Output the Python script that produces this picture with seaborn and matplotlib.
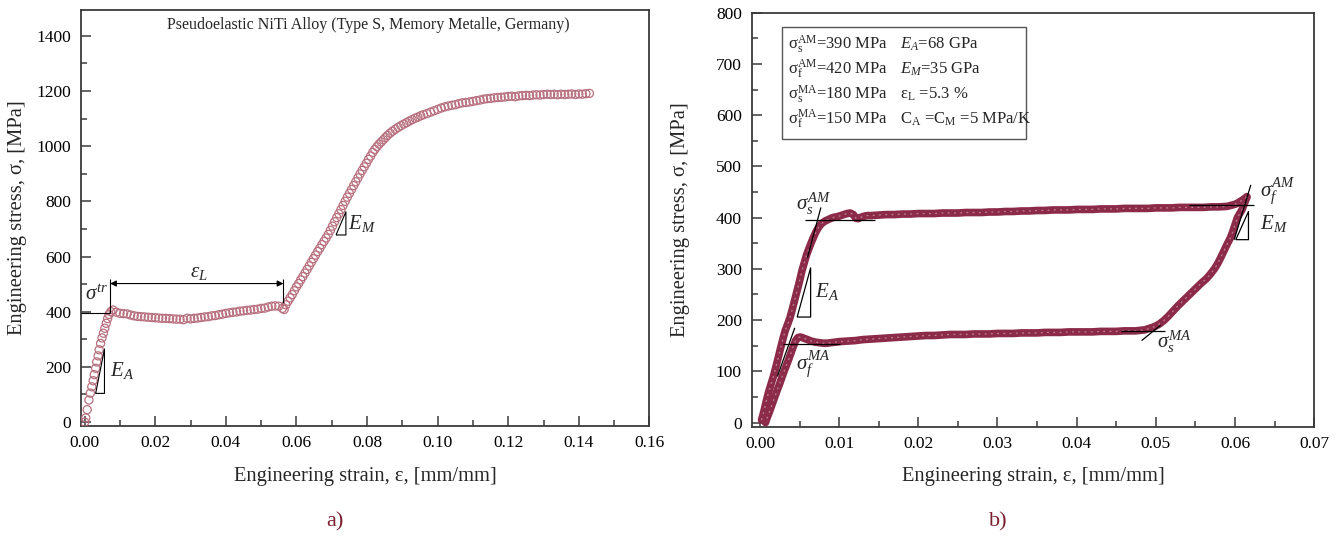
import numpy as np
import pandas as pd
import matplotlib
matplotlib.use("Agg")
import matplotlib.pyplot as plt
from matplotlib.ticker import MultipleLocator, FormatStrFormatter
import seaborn as sns

# ---------------- data: (a) monotonic tensile test ----------------
strain_a = [
    0.0000, 0.0003, 0.0007, 0.0012, 0.0016, 0.0020, 0.0024, 0.0027, 0.0031, 0.0034,
    0.0038, 0.0041, 0.0045, 0.0049, 0.0053, 0.0057, 0.0061, 0.0065, 0.0069, 0.0074,
    0.0080, 0.0090, 0.0100, 0.0110, 0.0120, 0.0130, 0.0140, 0.0150, 0.0160, 0.0170,
    0.0180, 0.0190, 0.0200, 0.0210, 0.0220, 0.0230, 0.0240, 0.0250, 0.0260, 0.0270,
    0.0280, 0.0290, 0.0300, 0.0310, 0.0320, 0.0330, 0.0340, 0.0350, 0.0360, 0.0370,
    0.0380, 0.0390, 0.0400, 0.0410, 0.0420, 0.0430, 0.0440, 0.0450, 0.0460, 0.0470,
    0.0480, 0.0490, 0.0500, 0.0510, 0.0520, 0.0530, 0.0540, 0.0550, 0.0560, 0.0565,
    0.0570, 0.0576, 0.0582, 0.0588, 0.0594, 0.0600, 0.0606, 0.0612, 0.0618, 0.0624,
    0.0630, 0.0636, 0.0642, 0.0648, 0.0654, 0.0660, 0.0666, 0.0672, 0.0678, 0.0684,
    0.0690, 0.0696, 0.0702, 0.0708, 0.0714, 0.0720, 0.0726, 0.0732, 0.0738, 0.0744,
    0.0750, 0.0756, 0.0762, 0.0768, 0.0774, 0.0780, 0.0786, 0.0792, 0.0798, 0.0804,
    0.0810, 0.0816, 0.0822, 0.0828, 0.0834, 0.0840, 0.0846, 0.0852, 0.0858, 0.0865,
    0.0872, 0.0880, 0.0888, 0.0896, 0.0904, 0.0912, 0.0920, 0.0928, 0.0936, 0.0944,
    0.0952, 0.0960, 0.0970, 0.0980, 0.0990, 0.1000, 0.1010, 0.1020, 0.1030, 0.1040,
    0.1050, 0.1060, 0.1070, 0.1080, 0.1090, 0.1100, 0.1110, 0.1120, 0.1130, 0.1140,
    0.1150, 0.1160, 0.1170, 0.1180, 0.1190, 0.1200, 0.1210, 0.1220, 0.1230, 0.1240,
    0.1250, 0.1260, 0.1270, 0.1280, 0.1290, 0.1300, 0.1310, 0.1320, 0.1330, 0.1340,
    0.1350, 0.1360, 0.1370, 0.1380, 0.1390, 0.1400, 0.1410, 0.1420, 0.1430,
]
stress_a = [
    0, 15, 45, 80, 105, 128, 150, 172, 195, 218,
    240, 262, 285, 305, 322, 340, 358, 375, 390, 400,
    406, 398, 394, 393, 392, 388, 385, 383, 382, 381,
    380, 379, 378, 377, 376, 376, 375, 374, 373, 373,
    371, 376, 374, 376, 377, 379, 381, 382, 385, 386,
    389, 391, 394, 396, 398, 399, 402, 403, 405, 406,
    408, 409, 412, 413, 417, 420, 421, 420, 412, 408,
    425, 438, 450, 462, 476, 490, 502, 515, 527, 540,
    553, 566, 579, 592, 605, 618, 630, 643, 655, 667,
    680, 695, 710, 726, 741, 755, 770, 785, 800, 815,
    829, 843, 857, 871, 885, 899, 912, 925, 938, 952,
    964, 977, 988, 998, 1007, 1015, 1023, 1031, 1039, 1047,
    1054, 1061, 1068, 1074, 1080, 1085, 1091, 1096, 1101, 1105,
    1110, 1114, 1118, 1123, 1128, 1133, 1138, 1142, 1145, 1148,
    1150, 1154, 1157, 1158, 1160, 1162, 1165, 1167, 1170, 1172,
    1173, 1175, 1176, 1177, 1178, 1180, 1181, 1179, 1182, 1183,
    1184, 1183, 1185, 1186, 1185, 1187, 1188, 1187, 1188, 1186,
    1188, 1187, 1188, 1189, 1187, 1189, 1188, 1190, 1191,
]

# ---------------- data: (b) loading / unloading cycle ----------------
strain_load = [
    0.0002, 0.0005, 0.0008, 0.0011, 0.0014, 0.0017, 0.0020, 0.0023, 0.0026, 0.0029,
    0.0032, 0.0035, 0.0038, 0.0041, 0.0044, 0.0047, 0.0050, 0.0053, 0.0056, 0.0059,
    0.0062, 0.0065, 0.0068, 0.0071, 0.0074, 0.0077, 0.0080, 0.0083, 0.0086, 0.0090,
    0.0094, 0.0098, 0.0102, 0.0106, 0.0110, 0.0114, 0.0118, 0.0121, 0.0124, 0.0128,
    0.0132, 0.0136, 0.014, 0.015, 0.016, 0.017, 0.018, 0.019, 0.020, 0.021,
    0.022, 0.023, 0.024, 0.025, 0.026, 0.027, 0.028, 0.029, 0.030, 0.031,
    0.032, 0.033, 0.034, 0.035, 0.036, 0.037, 0.038, 0.039, 0.040, 0.041,
    0.042, 0.043, 0.044, 0.045, 0.046, 0.047, 0.048, 0.049, 0.050, 0.051,
    0.052, 0.053, 0.054, 0.055, 0.056, 0.057, 0.058, 0.059, 0.0595, 0.0600,
    0.0604, 0.0608, 0.0612, 0.0615,
]
stress_load = [
    5, 22, 42, 60, 75, 90, 108, 126, 145, 163,
    180, 192, 205, 222, 240, 258, 276, 296, 312, 328,
    340, 352, 363, 373, 381, 387, 391, 394, 396, 399,
    401, 402, 404, 406, 408, 409, 406, 399, 398, 401,
    403, 404, 404, 405, 406, 406, 407, 407, 408, 408,
    408, 409, 409, 409, 410, 410, 410, 411, 411, 412,
    412, 413, 413, 414, 414, 415, 415, 415, 416, 416,
    416, 417, 417, 417, 418, 418, 418, 418, 419, 419,
    419, 420, 420, 420, 420, 421, 421, 422, 424, 426,
    429, 433, 437, 441,
]
strain_unload = [
    0.0615, 0.0612, 0.0609, 0.0606, 0.0603, 0.0600, 0.0597, 0.0594, 0.0590, 0.0586,
    0.0582, 0.0578, 0.0574, 0.0569, 0.0564, 0.0558, 0.0552, 0.0546, 0.0540, 0.0534,
    0.0528, 0.0522, 0.0516, 0.0510, 0.0504, 0.0498, 0.0492, 0.0486, 0.0480, 0.0474,
    0.047, 0.046, 0.045, 0.044, 0.043, 0.042, 0.041, 0.040, 0.039, 0.038,
    0.037, 0.036, 0.035, 0.034, 0.033, 0.032, 0.031, 0.030, 0.029, 0.028,
    0.027, 0.026, 0.025, 0.024, 0.023, 0.022, 0.021, 0.020, 0.019, 0.018,
    0.017, 0.016, 0.015, 0.014, 0.013, 0.012, 0.011, 0.010, 0.0095, 0.0090,
    0.0085, 0.0080, 0.0075, 0.0070, 0.0065, 0.0060, 0.0055, 0.0051, 0.0048, 0.0045,
    0.0042, 0.0039, 0.0036, 0.0033, 0.0030, 0.0027, 0.0024, 0.0021, 0.0018, 0.0015,
    0.0012, 0.0009, 0.0007,
]
stress_unload = [
    440, 428, 416, 408, 400, 386, 372, 360, 348, 335,
    322, 310, 300, 290, 281, 273, 264, 255, 246, 237,
    228, 218, 208, 199, 192, 187, 184, 181, 180, 179,
    179, 179, 178, 178, 178, 177, 177, 177, 177, 176,
    176, 176, 175, 175, 175, 174, 174, 174, 173, 173,
    173, 172, 172, 172, 171, 170, 170, 169, 168, 167,
    166, 165, 164, 163, 162, 160, 159, 158, 157, 156,
    155, 155, 156, 157, 159, 162, 165, 167, 166, 160,
    148, 135, 122, 110, 98, 85, 72, 60, 47, 34,
    21, 9, 0,
]

ticks_a_x = [0.00, 0.02, 0.04, 0.06, 0.08, 0.10, 0.12, 0.14, 0.16]
ticks_a_y = [0, 200, 400, 600, 800, 1000, 1200, 1400]
ticks_b_x = [0.00, 0.01, 0.02, 0.03, 0.04, 0.05, 0.06, 0.07]
ticks_b_y = [0, 100, 200, 300, 400, 500, 600, 700, 800]

legend_rows = [
    (r"$\mathrm{\sigma_s^{AM}}$=390 MPa", r"$E_A$=68 GPa"),
    (r"$\mathrm{\sigma_f^{AM}}$=420 MPa", r"$E_M$=35 GPa"),
    (r"$\mathrm{\sigma_s^{MA}}$=180 MPa", r"$\mathrm{\varepsilon_L}$ =5.3 %"),
    (r"$\mathrm{\sigma_f^{MA}}$=150 MPa", r"$\mathrm{C_A}$ =$\mathrm{C_M}$ =5 MPa/K"),
]

# ---------------- style ----------------
sns.set_theme(style="ticks")
plt.rcParams.update({
    "font.family": ["Liberation Serif", "DejaVu Serif"],
    "mathtext.fontset": "custom",
    "mathtext.rm": "Liberation Serif",
    "mathtext.it": "Liberation Serif:italic",
    "mathtext.bf": "Liberation Serif:bold",
    "axes.edgecolor": "#3a3a3a",
    "axes.linewidth": 1.3,
    "xtick.color": "#3a3a3a",
    "ytick.color": "#3a3a3a",
    "xtick.labelcolor": "black",
    "ytick.labelcolor": "black",
})

ink_a = "#b8707f"
ink_b = "#8c2a4a"
caption_color = "#7a1f2e"

fig = plt.figure(figsize=(13.41, 5.37), dpi=100)
ax_a = fig.add_axes([0.0604, 0.2073, 0.4239, 0.7750])
ax_b = fig.add_axes([0.5605, 0.2054, 0.4195, 0.7710])


def style_axes(ax, xmaj, xmin, ymaj, ymin, xfmt, yfmt, ylab_x, xlab_y):
    for s in ax.spines.values():
        s.set_visible(True)
        s.set_color("#3a3a3a")
        s.set_linewidth(1.3)
    ax.xaxis.set_major_locator(MultipleLocator(xmaj))
    ax.xaxis.set_minor_locator(MultipleLocator(xmin))
    ax.yaxis.set_major_locator(MultipleLocator(ymaj))
    ax.yaxis.set_minor_locator(MultipleLocator(ymin))
    ax.xaxis.set_major_formatter(FormatStrFormatter(xfmt))
    ax.yaxis.set_major_formatter(FormatStrFormatter(yfmt))
    ax.tick_params(which="both", direction="in", top=False, right=False,
                   labelsize=12.5, width=1.1)
    ax.tick_params(which="major", length=7, pad=7)
    ax.tick_params(which="minor", length=4)
    ax.set_xlabel("Engineering strain, ε, [mm/mm]", fontsize=14.8)
    ax.set_ylabel("Engineering stress, σ, [MPa]", fontsize=14.8)
    ax.xaxis.set_label_coords(0.5, xlab_y)
    ax.yaxis.set_label_coords(ylab_x, 0.5)


def black_line(ax, xs, ys, lw=0.9):
    ax.plot(xs, ys, color="black", lw=lw, solid_capstyle="butt", zorder=5)


# ---------------- panel (a) ----------------
df_a = pd.DataFrame({"strain": strain_a, "stress": stress_a})
sns.scatterplot(data=df_a, x="strain", y="stress", ax=ax_a, marker="o", s=34,
                facecolor="none", edgecolor=ink_a, linewidth=0.9, zorder=3)
ax_a.set_xlim(-0.00105, 0.16)
ax_a.set_ylim(-13, 1495)
style_axes(ax_a, 0.02, 0.01, 200, 100, "%.2f", "%d", -0.095, -0.099)
ax_a.set_xticks(ticks_a_x)
ax_a.set_yticks(ticks_a_y)

ax_a.text(0.505, 0.963, "Pseudoelastic NiTi Alloy (Type S, Memory Metalle, Germany)",
          transform=ax_a.transAxes, ha="center", va="center", fontsize=11.5)

# transformation stress marker and plateau length
black_line(ax_a, [-0.00105, 0.0072], [394, 394], lw=0.8)
black_line(ax_a, [0.0072, 0.0072], [394, 518], lw=0.8)
black_line(ax_a, [0.0563, 0.0563], [430, 518], lw=0.8)
ax_a.annotate("", xy=(0.0563, 502), xytext=(0.0072, 502),
              arrowprops=dict(arrowstyle="<|-|>", color="black", lw=0.8,
                              mutation_scale=9, shrinkA=0, shrinkB=0))
ax_a.text(0.0002, 460, r"$\sigma^{tr}$", fontsize=15, ha="left", va="center")
ax_a.text(0.0299, 543, r"$\varepsilon_L$", fontsize=15, ha="left", va="center")

# slope triangles
black_line(ax_a, [0.0031, 0.0056, 0.0056, 0.0031], [104, 104, 265, 104], lw=0.8)
ax_a.text(0.0072, 187, r"$E_A$", fontsize=15, ha="left", va="center")
black_line(ax_a, [0.0712, 0.0740, 0.0740, 0.0712], [678, 678, 762, 678], lw=0.8)
ax_a.text(0.0747, 720, r"$E_M$", fontsize=15, ha="left", va="center")

# ---------------- panel (b) ----------------
df_load = pd.DataFrame({"strain": strain_load, "stress": stress_load})
df_unload = pd.DataFrame({"strain": strain_unload, "stress": stress_unload})
for df in (df_load, df_unload):
    sns.lineplot(data=df, x="strain", y="stress", ax=ax_b, sort=False,
                 color=ink_b, lw=5.5, zorder=3)
    sns.lineplot(data=df, x="strain", y="stress", ax=ax_b, sort=False,
                 color="#e9c6d0", lw=0.9, alpha=0.55, dashes=(1.5, 3.5),
                 zorder=4)
ax_b.set_xlim(-0.00105, 0.07)
ax_b.set_ylim(-8, 800)
style_axes(ax_b, 0.01, 0.005, 100, 50, "%.2f", "%d", -0.110, -0.097)
ax_b.set_xticks(ticks_b_x)
ax_b.set_yticks(ticks_b_y)

# start of forward transformation
black_line(ax_b, [0.0057, 0.0145], [395, 395])
black_line(ax_b, [0.0060, 0.0077], [322, 420])
ax_b.text(0.0046, 426, r"$\sigma_s^{AM}$", fontsize=15, ha="left", va="center")
# elastic modulus of austenite
black_line(ax_b, [0.0047, 0.0064, 0.0064, 0.0047], [206, 206, 302, 206])
ax_b.text(0.0069, 255, r"$E_A$", fontsize=15, ha="left", va="center")
# finish of reverse transformation
black_line(ax_b, [0.0029, 0.0101], [153, 153])
black_line(ax_b, [0.0022, 0.0044], [90, 185])
ax_b.text(0.0046, 115, r"$\sigma_f^{MA}$", fontsize=15, ha="left", va="center")
# start of reverse transformation
black_line(ax_b, [0.0456, 0.0512], [179, 179])
black_line(ax_b, [0.0482, 0.0506], [160, 190])
ax_b.text(0.0501, 158, r"$\sigma_s^{MA}$", fontsize=15, ha="left", va="center")
# finish of forward transformation
black_line(ax_b, [0.0542, 0.0624], [424, 424])
black_line(ax_b, [0.0599, 0.0620], [357, 464])
ax_b.text(0.0632, 451, r"$\sigma_f^{AM}$", fontsize=15, ha="left", va="center")
# elastic modulus of martensite
black_line(ax_b, [0.0601, 0.0617, 0.0617, 0.0601], [357, 357, 412, 357])
ax_b.text(0.0632, 388, r"$E_M$", fontsize=15, ha="left", va="center")

# material parameter box
box = plt.Rectangle((0.0539, 0.695), 0.4337, 0.2693, transform=ax_b.transAxes,
                    facecolor="white", edgecolor="#555555", lw=1.0, zorder=6)
ax_b.add_patch(box)
row_y = [0.914, 0.853, 0.793, 0.731]
for (left_txt, right_txt), yy in zip(legend_rows, row_y):
    ax_b.text(0.0645, yy, left_txt, transform=ax_b.transAxes, fontsize=12,
              ha="left", va="baseline", zorder=7)
    ax_b.text(0.2635, yy, right_txt, transform=ax_b.transAxes, fontsize=12,
              ha="left", va="baseline", zorder=7)

# panel captions
fig.text(335 / 1341, 1 - 522 / 537, "a)", ha="center", va="center",
         fontsize=16, color=caption_color)
fig.text(998 / 1341, 1 - 522 / 537, "b)", ha="center", va="center",
         fontsize=16, color=caption_color)

fig.savefig("out.png", dpi=100, facecolor="white")
